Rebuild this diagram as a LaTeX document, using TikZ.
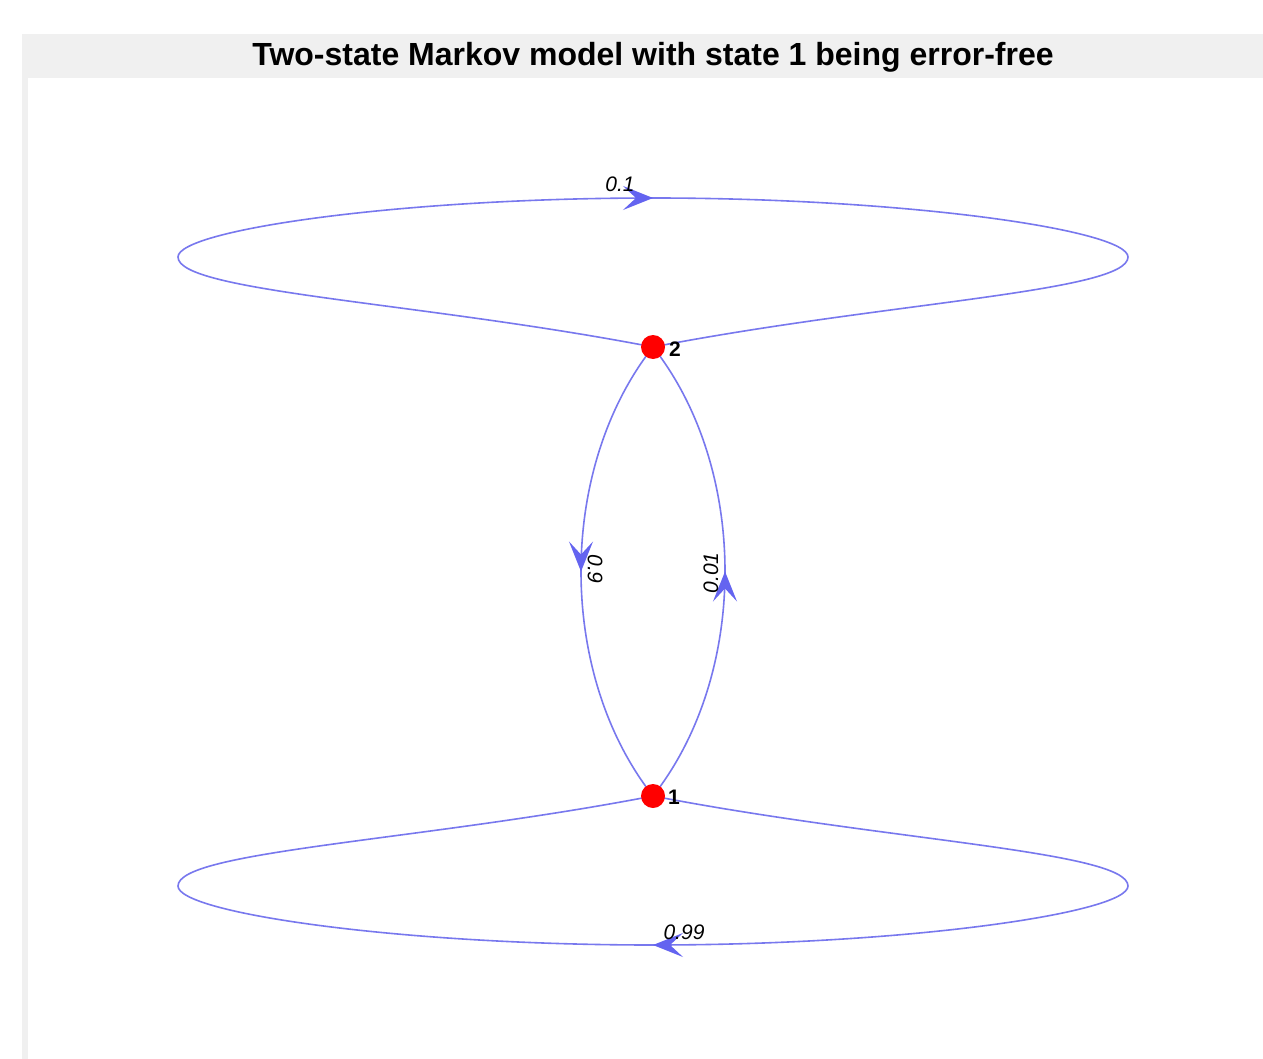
\documentclass[tikz,border=0pt]{standalone}
\usepackage{fontspec}
\setmainfont{Liberation Sans}
\usetikzlibrary{arrows.meta,decorations.markings}
\definecolor{edgeblue}{RGB}{120,120,238}
\definecolor{arrowblue}{RGB}{100,100,240}
\definecolor{bargray}{RGB}{240,240,240}
\pgfdeclarelayer{back}
\pgfdeclarelayer{bg}
\pgfsetlayers{back,bg,main}
\begin{document}
\begin{tikzpicture}[x=1pt,y=-1pt,
  edge/.style={draw=edgeblue, line width=1.6pt, postaction={decorate},
    decoration={markings, mark=at position 0.5 with {\arrow[arrowblue]{Stealth[length=30pt,width=24pt,inset=13pt]}}}},
  state/.style={circle, fill=red, inner sep=0pt, minimum size=24pt},
  statelabel/.style={font=\fontsize{21}{21}\selectfont\bfseries, inner sep=0pt},
  elabel/.style={font=\fontsize{21}{21}\selectfont\itshape, inner sep=0pt},
  titletext/.style={font=\fontsize{32}{32}\selectfont\bfseries, inner sep=0pt}]
\useasboundingbox (0,0) rectangle (1263,1059);
\begin{pgfonlayer}{back}
\fill[white] (0,0) rectangle (1263,1059);
\fill[bargray] (22,34) rectangle (1263,78);
\fill[bargray] (22,78) rectangle (28,1059);
\end{pgfonlayer}
\node[titletext] (title) at (653,57) {Two-state Markov model with state 1 being error-free};

\node[state] (n2) at (653,347) {};
\node[state] (n1) at (653,796) {};
\node[statelabel, anchor=west] (l2) at (669,349) {2};
\node[statelabel, anchor=west] (l1) at (668,797) {1};

\begin{pgfonlayer}{bg}
\draw[edge] (n2.center) .. controls (420,302) and (178,292) .. (178,257)
  .. controls (178,230) and (400,198) .. (653,198)
  .. controls (906,198) and (1128,230) .. (1128,257)
  .. controls (1128,292) and (886,302) .. (n2.center);
\draw[edge] (n1.center) .. controls (886,841) and (1128,851) .. (1128,886)
  .. controls (1128,913) and (906,945) .. (653,945)
  .. controls (400,945) and (178,913) .. (178,886)
  .. controls (178,851) and (420,841) .. (n1.center);
\draw[edge] (n2.center) .. controls (557,469) and (557,674) .. (n1.center);
\draw[edge] (n1.center) .. controls (749,674) and (749,469) .. (n2.center);
\end{pgfonlayer}

\node[elabel] (e22) at (620,184) {0.1};
\node[elabel] (e11) at (684,932) {0.99};
\node[elabel, rotate=-90] (e21) at (595,569) {0.9};
\node[elabel, rotate=90] (e12) at (711,573) {0.01};
\end{tikzpicture}
\end{document}
